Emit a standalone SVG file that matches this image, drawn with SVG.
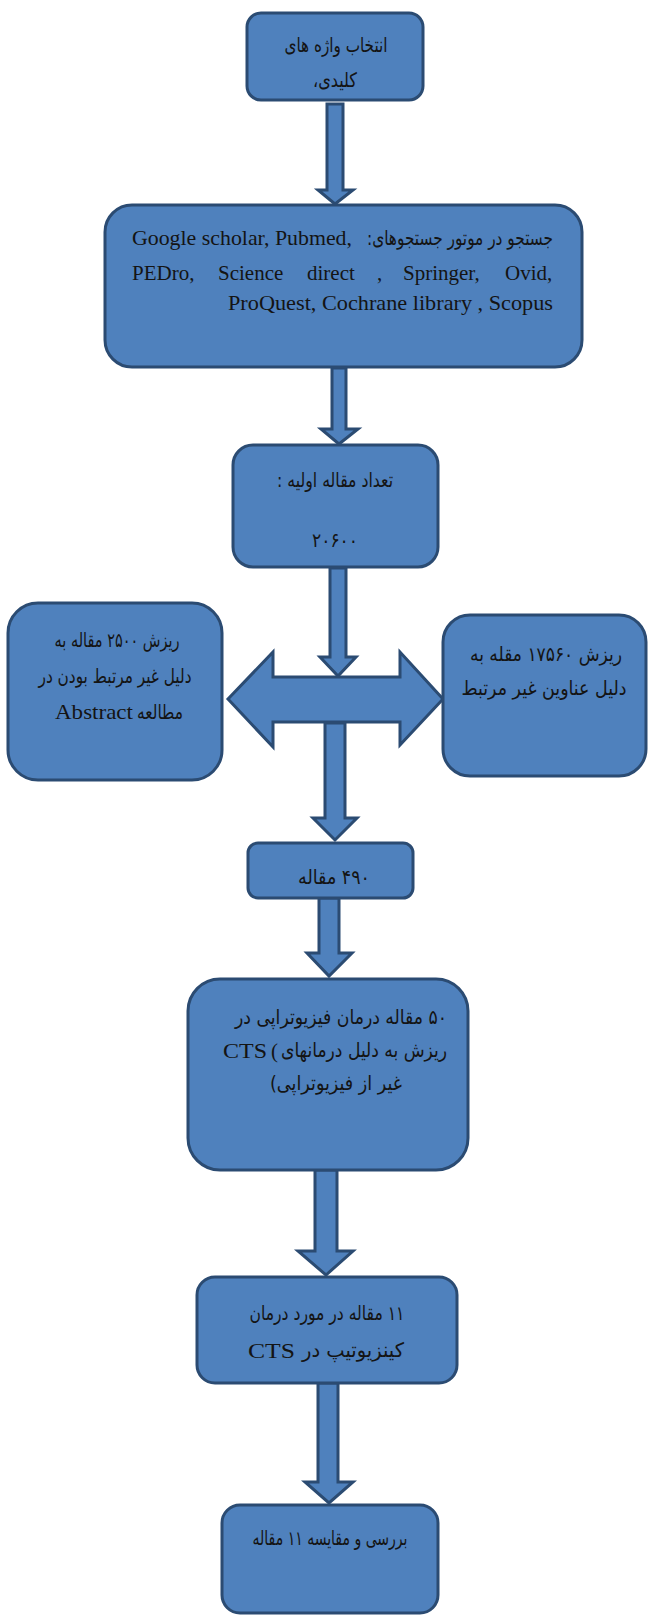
<svg xmlns="http://www.w3.org/2000/svg" width="648" height="1618" viewBox="0 0 648 1618">
<style>
.box{fill:#4F81BD;stroke:#2B4B72;stroke-width:3}
.arr{fill:#4F81BD;stroke:#2B4B72;stroke-width:3;stroke-linejoin:miter}
.fa{font-family:"DejaVu Sans",sans-serif;font-size:20px;fill:#141414;direction:rtl;unicode-bidi:embed}
.en{font-family:"Liberation Serif","DejaVu Sans",serif;font-size:21px;fill:#141414}
</style>
<rect width="648" height="1618" fill="#ffffff"/>
<g id="connectors">
  <polygon class="arr" points="327,104 343,104 343,190 353,190 335,204 318,190 327,190"/>
  <polygon class="arr" points="332,368 346,368 346,429 358,429 339,444 321,429 332,429"/>
  <polygon class="arr" points="330,568 346,568 346,657 356,657 338,676 320,657 330,657"/>
  <polygon class="arr" points="228,699 273,652 273,677 400,677 400,652 443,699 400,745 400,722 273,722 273,747"/>
  <polygon class="arr" points="325,723 345,723 345,818 357,818 335,840 313,818 325,818"/>
  <polygon class="arr" points="319,898 339,898 339,953 352,953 329,976 307,953 319,953"/>
  <polygon class="arr" points="315,1170 337,1170 337,1251 353,1251 326,1275 298,1251 315,1251"/>
  <polygon class="arr" points="318,1383 338,1383 338,1482 353,1482 329,1503 305,1482 318,1482"/>
</g>
<g id="node-keywords">
  <rect class="box" x="247" y="13" width="176" height="87" rx="14"/>
  <text class="fa" x="336" y="52" text-anchor="middle" direction="rtl" textLength="103" lengthAdjust="spacingAndGlyphs">انتخاب واژه های</text>
  <text class="fa" x="335" y="87" text-anchor="middle" direction="rtl" textLength="44" lengthAdjust="spacingAndGlyphs">کلیدی،</text>
</g>
<g id="node-search">
  <rect class="box" x="105" y="205" width="477" height="162" rx="27"/>
  <text class="en" x="132" y="245" textLength="220" lengthAdjust="spacingAndGlyphs">Google scholar, Pubmed,</text>
  <text class="fa" x="460" y="245" text-anchor="middle" direction="rtl" textLength="186" lengthAdjust="spacingAndGlyphs">جستجو در موتور جستجوهای:</text>
  <text class="en" y="280"><tspan x="132">PEDro,</tspan><tspan x="218">Science</tspan><tspan x="307">direct</tspan><tspan x="377">,</tspan><tspan x="403">Springer,</tspan><tspan x="505">Ovid,</tspan></text>
  <text class="en" x="553" y="310" text-anchor="end" textLength="325" lengthAdjust="spacingAndGlyphs">ProQuest, Cochrane library , Scopus</text>
</g>
<g id="node-initial">
  <rect class="box" x="233" y="445" width="205" height="122" rx="20"/>
  <text class="fa" x="335" y="487" text-anchor="middle" direction="rtl" textLength="116" lengthAdjust="spacingAndGlyphs">تعداد مقاله اولیه :</text>
  <text class="fa" x="335" y="547" text-anchor="middle" direction="rtl" textLength="46" lengthAdjust="spacingAndGlyphs">۲۰۶۰۰</text>
</g>
<g id="node-abstract">
  <rect class="box" x="8" y="603" width="214" height="177" rx="30"/>
  <text class="fa" x="117" y="647" text-anchor="middle" direction="rtl" textLength="125" lengthAdjust="spacingAndGlyphs">ریزش ۲۵۰۰ مقاله به</text>
  <text class="fa" x="115" y="683" text-anchor="middle" direction="rtl" font-size="18" textLength="153" lengthAdjust="spacingAndGlyphs">دلیل غیر مرتبط بودن در</text>
  <text class="fa" x="160" y="719" text-anchor="middle" direction="rtl" textLength="46" lengthAdjust="spacingAndGlyphs">مطالعه</text>
  <text class="en" x="55" y="719" font-size="22" textLength="78" lengthAdjust="spacingAndGlyphs">Abstract</text>
</g>
<g id="node-titles">
  <rect class="box" x="443" y="615" width="203" height="161" rx="27"/>
  <text class="fa" x="546" y="661" text-anchor="middle" direction="rtl" font-size="16" textLength="152" lengthAdjust="spacingAndGlyphs">ریزش ۱۷۵۶۰ مقله به</text>
  <text class="fa" x="544" y="695" text-anchor="middle" direction="rtl" font-size="16" textLength="165" lengthAdjust="spacingAndGlyphs">دلیل عناوین غیر مرتبط</text>
</g>
<g id="node-490">
  <rect class="box" x="248" y="843" width="165" height="55" rx="10"/>
  <text class="fa" x="334" y="884" text-anchor="middle" direction="rtl" textLength="72" lengthAdjust="spacingAndGlyphs">۴۹۰ مقاله</text>
</g>
<g id="node-50">
  <rect class="box" x="188" y="979" width="280" height="191" rx="32"/>
  <text class="fa" x="341" y="1024" text-anchor="middle" direction="rtl" textLength="212" lengthAdjust="spacingAndGlyphs">۵۰ مقاله درمان فیزیوتراپی در</text>
  <text class="en" x="223" y="1058" textLength="44" lengthAdjust="spacingAndGlyphs">CTS</text>
  <text class="en" x="271" y="1058" font-size="19">(</text>
  <text class="fa" x="364" y="1057" text-anchor="middle" direction="rtl" textLength="166" lengthAdjust="spacingAndGlyphs">ریزش به دلیل درمانهای</text>
  <text class="fa" x="336" y="1090" text-anchor="middle" direction="rtl" textLength="132" lengthAdjust="spacingAndGlyphs">غیر از فیزیوتراپی)</text>
</g>
<g id="node-11">
  <rect class="box" x="197" y="1277" width="260" height="106" rx="18"/>
  <text class="fa" x="327" y="1320" text-anchor="middle" direction="rtl" textLength="155" lengthAdjust="spacingAndGlyphs">۱۱ مقاله در مورد درمان</text>
  <text class="en" x="248" y="1358" textLength="47" lengthAdjust="spacingAndGlyphs">CTS</text>
  <text class="fa" x="353" y="1357" text-anchor="middle" direction="rtl" textLength="102" lengthAdjust="spacingAndGlyphs">کینزیوتیپ در</text>
</g>
<g id="node-compare">
  <rect class="box" x="222" y="1505" width="216" height="108" rx="18"/>
  <text class="fa" x="330" y="1545" text-anchor="middle" direction="rtl" textLength="155" lengthAdjust="spacingAndGlyphs">بررسی و مقایسه ۱۱ مقاله</text>
</g>
</svg>
